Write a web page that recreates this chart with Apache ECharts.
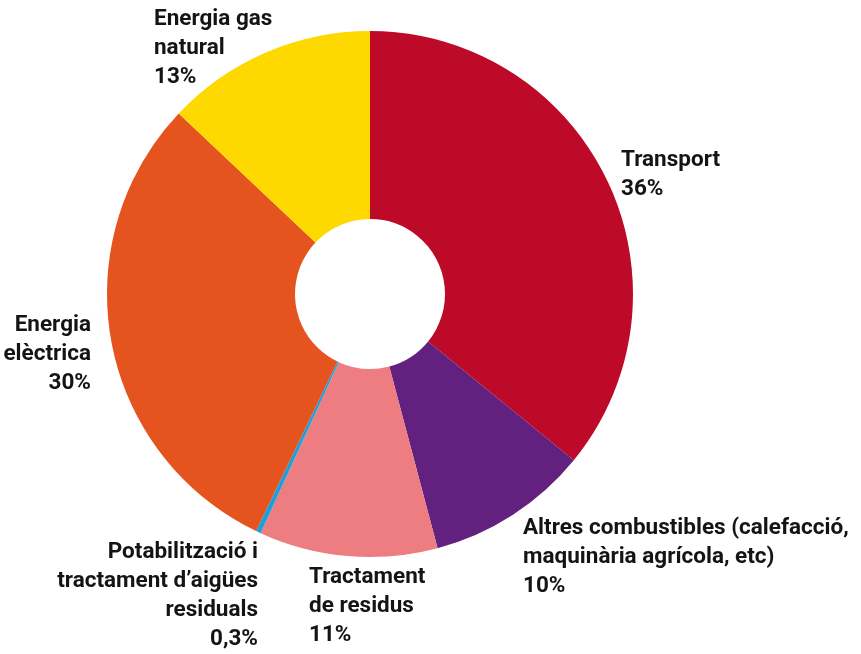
<!DOCTYPE html>
<html>
<head>
<meta charset="utf-8">
<script src="https://cdn.jsdelivr.net/npm/echarts@6/dist/echarts.min.js"></script>
<style>
  html, body { margin: 0; padding: 0; background: #fff; }
  #chart { width: 861px; height: 654px; }
</style>
</head>
<body>
<div id="chart"></div>
<script>
// categories clockwise from 12 o'clock
const categories = [
  'Transport',
  'Altres combustibles (calefacció,\nmaquinària agrícola, etc)',
  'Tractament\nde residus',
  'Potabilització i\ntractament d’aigües\nresiduals',
  'Energia\nelèctrica',
  'Energia gas\nnatural'
]
const shares = [36, 10, 11, 0.3, 30, 13]
const colors = ['#BE0A29', '#63217F', '#EE7D81', '#1BA0DC', '#E5531E', '#FED900']

// where each label block sits (top-left or top-right corner)
const labelPos = [
  { x: 621, y: 146, align: 'left' },
  { x: 523, y: 514, align: 'left' },
  { x: 309, y: 563, align: 'left' },
  { x: 258, y: 538, align: 'right' },
  { x: 91, y: 311, align: 'right' },
  { x: 154, y: 5, align: 'left' }
]

const chart = echarts.init(document.getElementById('chart'))

chart.setOption({
  animation: false,
  series: [{
    type: 'pie',
    center: [370, 294],
    radius: [75, 263],
    startAngle: 90,
    clockwise: true,
    minAngle: 0,
    avoidLabelOverlap: false,
    data: categories.map((name, i) => ({
      name,
      value: shares[i],
      itemStyle: { color: colors[i] }
    })),
    label: {
      show: true,
      position: 'outside',
      formatter: (p) => p.name + '\n' + String(p.value).replace('.', ',') + '%',
      fontFamily: 'Roboto',
      fontWeight: 'bold',
      fontSize: 22.5,
      lineHeight: 29,
      color: '#141414'
    },
    labelLine: { show: false },
    labelLayout: (params) => {
      const p = labelPos[params.dataIndex]
      return { x: p.x, y: p.y, align: p.align, verticalAlign: 'top', hideOverlap: false }
    },
    emphasis: { disabled: true }
  }]
})
</script>
</body>
</html>
